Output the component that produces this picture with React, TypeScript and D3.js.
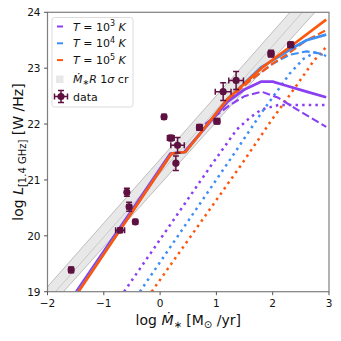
import React from 'react';
import * as d3 from 'd3';

// observations: log Mdot, log L, errors
const obsX = [-1.58, -0.71, -0.59, -0.55, -0.44, 0.07, 0.19, 0.31, 0.28, 0.70, 1.01, 1.12, 1.35, 1.97, 2.32];
const obsY = [19.39, 20.10, 20.78, 20.52, 20.25, 22.13, 21.75, 21.62, 21.30, 21.94, 22.05, 22.58, 22.78, 23.26, 23.42];
const obsXErr = [0.04, 0.08, 0.03, 0.04, 0.03, 0.04, 0.06, 0.12, 0.02, 0.05, 0.05, 0.14, 0.13, 0.05, 0.05];
const obsYErr = [0.05, 0.04, 0.07, 0.08, 0.04, 0.04, 0.05, 0.14, 0.13, 0.05, 0.05, 0.16, 0.16, 0.06, 0.05];

// Mdot-R relation band
const bandX = [-2.2, 3];
const bandLow = [18.46, 24.28];
const bandMid = [18.61, 24.54];
const bandHigh = [18.86, 24.79];

// models: total (solid), dashed and dotted components
const solidX3 = [-1.49, 0.18, 0.43, 1.2, 1.5, 1.8, 2.0, 2.2, 2.6, 2.95];
const solidY3 = [19.0, 21.47, 21.5, 22.4, 22.62, 22.76, 22.76, 22.7, 22.58, 22.48];
const solidX4 = [-1.46, 0.2, 0.45, 1.2, 1.8, 2.0, 2.3, 2.6, 2.95];
const solidY4 = [19.0, 21.47, 21.5, 22.45, 23.02, 23.14, 23.33, 23.5, 23.6];
const solidX5 = [-1.45, 0.2, 0.45, 1.2, 1.8, 2.4, 2.95];
const solidY5 = [19.0, 21.47, 21.5, 22.45, 23.0, 23.45, 23.87];

const dashX3 = [0.8, 1.24, 1.5, 1.8, 2.1, 2.45, 2.95];
const dashY3 = [22.0, 22.34, 22.5, 22.58, 22.47, 22.25, 21.95];
const dashX4 = [1.2, 1.6, 2.0, 2.3, 2.6, 2.8, 2.95];
const dashY4 = [22.43, 22.78, 23.08, 23.24, 23.3, 23.27, 23.22];
const dashX5 = [1.2, 1.6, 2.0, 2.3, 2.6, 2.95];
const dashY5 = [22.43, 22.78, 23.08, 23.28, 23.5, 23.68];

const dotX3 = [-0.64, 0.9, 1.36, 1.6, 1.8, 2.1, 2.95];
const dotY3 = [19.0, 21.25, 21.9, 22.12, 22.26, 22.34, 22.34];
const dotX4 = [-0.36, 1.2, 1.8, 2.3, 2.55, 2.75, 2.95];
const dotY4 = [19.0, 21.3, 22.2, 22.9, 23.17, 23.28, 23.22];
const dotX5 = [-0.15, 1.42, 1.98, 2.43, 2.72, 2.95];
const dotY5 = [19.0, 21.24, 22.07, 22.7, 23.12, 23.38];

const xTicks = [-2, -1, 0, 1, 2, 3];
const yTicks = [19, 20, 21, 22, 23, 24];
const tempExp = ['3', '4', '5'];

const colors = ['#8a3ff0', '#3d8ef7', '#ff560d'];
const dataColor = '#5e1041';
const font = 'DejaVu Sans, sans-serif';

export default function App() {
  const left = 47.5, right = 329, top = 12.3, bottom = 291.7;
  const x = d3.scaleLinear().domain([-2, 3]).range([left, right]);
  const y = d3.scaleLinear().domain([19, 24]).range([bottom, top]);

  const line = (xs: number[], ys: number[]) =>
    d3.line<number>().x((_, i) => x(xs[i])).y((_, i) => y(ys[i]))(xs) || '';

  const area = d3.area<number>()
    .x((_, i) => x(bandX[i]))
    .y0((_, i) => y(bandLow[i]))
    .y1((_, i) => y(bandHigh[i]))(bandX) || '';

  const solids = [[solidX3, solidY3], [solidX4, solidY4], [solidX5, solidY5]];
  const dashes = [[dashX3, dashY3], [dashX4, dashY4], [dashX5, dashY5]];
  const dots = [[dotX3, dotY3], [dotX4, dotY4], [dotX5, dotY5]];

  return (
    <svg width={341} height={341} style={{ position: 'absolute', left: 0, top: 0 }} fontFamily={font}>
      <rect width={341} height={341} fill="white" />
      <defs>
        <clipPath id="plot">
          <rect x={left} y={top} width={right - left} height={bottom - top} />
        </clipPath>
      </defs>
      <g clipPath="url(#plot)">
        <path d={area} fill="#d9d9d9" fillOpacity={0.6} />
        <path d={line(bandX, bandLow)} stroke="#bdbdbd" strokeWidth={1} fill="none" />
        <path d={line(bandX, bandHigh)} stroke="#bdbdbd" strokeWidth={1} fill="none" />
        <path d={line(bandX, bandMid)} stroke="#c9c9c9" strokeWidth={1} fill="none" />
        {dots.map(([xs, ys], i) => (
          <path key={'d' + i} d={line(xs, ys)} stroke={colors[i]} strokeWidth={2.5}
            strokeDasharray="2.5 4.1" fill="none" />
        ))}
        {dashes.map(([xs, ys], i) => (
          <path key={'s' + i} d={line(xs, ys)} stroke={colors[i]} strokeWidth={2.1}
            strokeDasharray="7.8 3.4" fill="none" />
        ))}
        {solids.map(([xs, ys], i) => (
          <path key={'l' + i} d={line(xs, ys)} stroke={colors[i]} strokeWidth={2.7}
            fill="none" strokeLinejoin="round" />
        ))}
        {obsX.map((v, i) => {
          const cx = x(v), cy = y(obsY[i]);
          const x0 = x(v - obsXErr[i]), x1 = x(v + obsXErr[i]);
          const y0 = y(obsY[i] - obsYErr[i]), y1 = y(obsY[i] + obsYErr[i]);
          return (
            <g key={'o' + i} stroke={dataColor} strokeWidth={1.5}>
              <line x1={x0} x2={x1} y1={cy} y2={cy} />
              <line x1={cx} x2={cx} y1={y0} y2={y1} />
              <line x1={x0} x2={x0} y1={cy - 3} y2={cy + 3} />
              <line x1={x1} x2={x1} y1={cy - 3} y2={cy + 3} />
              <line x1={cx - 3} x2={cx + 3} y1={y0} y2={y0} />
              <line x1={cx - 3} x2={cx + 3} y1={y1} y2={y1} />
              <circle cx={cx} cy={cy} r={3.6} fill={dataColor} stroke="none" />
            </g>
          );
        })}
      </g>

      {/* frame */}
      <rect x={left} y={top} width={right - left} height={bottom - top} fill="none" stroke="#7f7f7f" strokeWidth={1.2} />

      {/* x axis */}
      {xTicks.map((t) => (
        <g key={'xt' + t}>
          <line x1={x(t)} x2={x(t)} y1={bottom} y2={bottom + 3.5} stroke="#555" strokeWidth={1} />
          <text x={x(t)} y={bottom + 15} fontSize={10.5} textAnchor="middle" fill="#111">
            {t < 0 ? '\u2212' + Math.abs(t) : t}
          </text>
        </g>
      ))}
      {/* y axis */}
      {yTicks.map((t) => (
        <g key={'yt' + t}>
          <line x1={left - 3.5} x2={left} y1={y(t)} y2={y(t)} stroke="#555" strokeWidth={1} />
          <text x={left - 7} y={y(t) + 3.8} fontSize={10.5} textAnchor="end" fill="#111">{t}</text>
        </g>
      ))}

      {/* axis labels */}
      <text x={(left + right) / 2} y={325} fontSize={14} textAnchor="middle" fill="#111">
        log <tspan fontStyle="italic">{'\u1E40'}</tspan>
        <tspan fontSize={10} dy={3}>{'\u2217'}</tspan>
        <tspan dy={-3}> [M</tspan>
        <tspan fontSize={10} dy={3}>{'\u2299'}</tspan>
        <tspan dy={-3}> /yr]</tspan>
      </text>
      <text transform={`translate(23,${(top + bottom) / 2}) rotate(-90)`} fontSize={14} textAnchor="middle" fill="#111">
        log <tspan fontStyle="italic">L</tspan>
        <tspan fontSize={10} dy={3}>[1.4 GHz]</tspan>
        <tspan dy={-3}> [W /Hz]</tspan>
      </text>

      {/* legend */}
      <g fontSize={11} fill="#111">
        <rect x={52} y={17.5} width={81} height={89.5} rx={2.5} fill="white" fillOpacity={0.8} stroke="#dcdcdc" strokeWidth={1} />
        {tempExp.map((e, i) => {
          const ly = 26.5 + i * 16.8;
          return (
            <g key={'lg' + i}>
              <line x1={57} x2={63} y1={ly} y2={ly} stroke={colors[i]} strokeWidth={2} />
              <text x={73} y={ly + 4}>
                <tspan fontStyle="italic">T</tspan> = 10
                <tspan fontSize={8} dy={-4.5}>{e}</tspan>
                <tspan dy={4.5} fontStyle="italic"> K</tspan>
              </text>
            </g>
          );
        })}
        <rect x={56} y={75.5} width={7.5} height={7.5} fill="#d9d9d9" fillOpacity={0.6} />
        <text x={73} y={83}>
          <tspan fontStyle="italic">{'\u1E40'}</tspan>
          <tspan fontSize={8} dy={2}>{'\u2217'}</tspan>
          <tspan dy={-2} fontStyle="italic">R</tspan> 1<tspan fontStyle="italic">σ</tspan> cr
        </text>
        <g stroke={dataColor} strokeWidth={1.5}>
          <line x1={54.5} x2={67.5} y1={96.5} y2={96.5} />
          <line x1={61} x2={61} y1={90.5} y2={102.5} />
          <line x1={54.5} x2={54.5} y1={93.5} y2={99.5} />
          <line x1={67.5} x2={67.5} y1={93.5} y2={99.5} />
          <line x1={58} x2={64} y1={90.5} y2={90.5} />
          <line x1={58} x2={64} y1={102.5} y2={102.5} />
          <circle cx={61} cy={96.5} r={3.6} fill={dataColor} stroke="none" />
        </g>
        <text x={73} y={100.5}>data</text>
      </g>
    </svg>
  );
}
